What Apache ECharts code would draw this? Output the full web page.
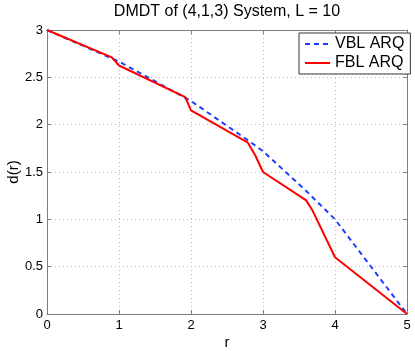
<!DOCTYPE html>
<html>
<head>
<meta charset="utf-8">
<script src="https://cdn.jsdelivr.net/npm/echarts@6/dist/echarts.min.js"></script>
<style>
html,body{margin:0;padding:0;background:#fff;}
#c{width:415px;height:351px;}
</style>
</head>
<body>
<div id="c"></div>
<script>
// Data
var titleText = 'DMDT of (4,1,3) System, L = 10';
var seriesNames = ['VBL ARQ', 'FBL ARQ'];
var vblR = [0, 1, 2, 2.8, 3, 3.6, 4, 5];
var vblD = [3, 2.667, 2.25, 1.83, 1.72, 1.3, 1.0, 0];
var fblR = [0, 0.9, 1, 1.92, 2, 2.79, 2.89, 3, 3.6, 3.69, 4, 5];
var fblD = [3, 2.71, 2.625, 2.29, 2.15, 1.81, 1.68, 1.5, 1.2, 1.09, 0.6, 0];
var xTicks = [0, 1, 2, 3, 4, 5];
var yTicks = [0, 0.5, 1, 1.5, 2, 2.5, 3];

function pairs(xs, ys) { return xs.map(function (x, i) { return [x, ys[i]]; }); }

var FONT = 'Liberation Sans, Arial, Helvetica, sans-serif';
var chart = echarts.init(document.getElementById('c'), null, {renderer: 'canvas'});
var axisCol = '#7f7f7f';
function baseX(extra) {
  var o = {
    type: 'value', min: xTicks[0], max: xTicks[xTicks.length - 1], interval: 1,
    axisLine: {show: true, onZero: false, lineStyle: {color: axisCol, width: 1}},
    axisTick: {show: true, inside: true, length: 4, lineStyle: {color: axisCol}},
    splitLine: {show: false}
  };
  for (var k in extra) o[k] = extra[k];
  return o;
}
function baseY(extra) {
  var o = {
    type: 'value', min: yTicks[0], max: yTicks[yTicks.length - 1], interval: 0.5,
    axisLine: {show: true, onZero: false, lineStyle: {color: axisCol, width: 1}},
    axisTick: {show: true, inside: true, length: 4, lineStyle: {color: axisCol}},
    splitLine: {show: false}
  };
  for (var k in extra) o[k] = extra[k];
  return o;
}
var option = {
  animation: false,
  backgroundColor: '#fff',
  title: {
    text: titleText, left: 227, textAlign: 'center', top: 4, padding: 0,
    textStyle: {fontFamily: FONT, fontSize: 16, fontWeight: 'normal', color: '#000'}
  },
  legend: {
    data: seriesNames,
    orient: 'vertical', left: 299, top: 33,
    backgroundColor: '#fff', borderColor: '#333', borderWidth: 1,
    padding: [3, 6, 3, 5], itemGap: 3, itemWidth: 25, itemHeight: 14,
    itemStyle: {opacity: 0},
    textStyle: {fontFamily: FONT, fontSize: 16, color: '#000', lineHeight: 16}
  },
  grid: {left: 47, right: 8, top: 30, bottom: 37, containLabel: false, outerBoundsMode: 'none'},
  xAxis: [
    baseX({
      position: 'bottom', name: 'r', nameLocation: 'middle', nameGap: 21, nameMoveOverlap: false,
      nameTextStyle: {fontFamily: FONT, fontSize: 15, color: '#000'},
      axisLabel: {show: true, margin: 5, fontFamily: FONT, fontSize: 13, color: '#000'},
      splitLine: {show: true, lineStyle: {color: '#bdbdbd', type: [1, 3], width: 1}}
    }),
    baseX({position: 'top', axisLabel: {show: false}})
  ],
  yAxis: [
    baseY({
      position: 'left', name: 'd(r)', nameLocation: 'middle', nameGap: 26, nameRotate: 90,
      nameMoveOverlap: false,
      nameTextStyle: {fontFamily: FONT, fontSize: 15, color: '#000'},
      axisLabel: {show: true, margin: 4, fontFamily: FONT, fontSize: 13, color: '#000'},
      splitLine: {show: true, lineStyle: {color: '#bdbdbd', type: [1, 3], width: 1}}
    }),
    baseY({position: 'right', axisLabel: {show: false}})
  ],
  series: [
    {
      name: seriesNames[0], type: 'line', data: pairs(vblR, vblD),
      symbol: 'none', z: 3,
      lineStyle: {color: '#1f3dff', width: 2, type: [5, 4]},
      itemStyle: {color: '#1f3dff'}
    },
    {
      name: seriesNames[1], type: 'line', data: pairs(fblR, fblD),
      symbol: 'none', z: 4,
      lineStyle: {color: '#ff0000', width: 2},
      itemStyle: {color: '#ff0000'}
    }
  ]
};
chart.setOption(option);
</script>
</body>
</html>
